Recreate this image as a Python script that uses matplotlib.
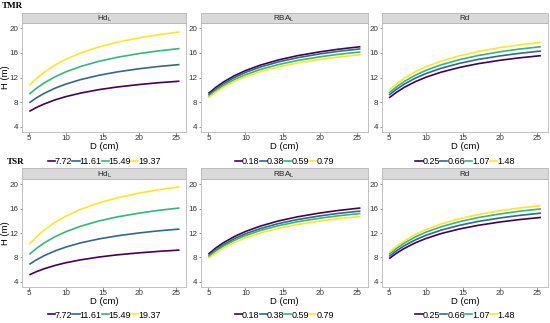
import matplotlib
matplotlib.use("Agg")
import matplotlib.pyplot as plt
from matplotlib.lines import Line2D

plt.rcParams["font.family"] = ["Liberation Sans", "DejaVu Sans"]
plt.rcParams["mathtext.fontset"] = "custom"
plt.rcParams["mathtext.rm"] = "Liberation Sans"

D = [5, 6, 7, 8.5, 10, 12, 14.5, 17, 20, 22.5, 25.5]

# TMR row
tmr_hd = {
    "7.72":  [6.5, 7.15, 7.69, 8.36, 8.90, 9.47, 10.03, 10.46, 10.86, 11.14, 11.4],
    "11.61": [7.9, 8.72, 9.41, 10.26, 10.94, 11.66, 12.36, 12.91, 13.42, 13.77, 14.1],
    "15.49": [9.3, 10.28, 11.10, 12.11, 12.93, 13.79, 14.63, 15.28, 15.89, 16.30, 16.7],
    "19.37": [10.7, 11.85, 12.81, 14.01, 14.96, 15.98, 16.96, 17.73, 18.44, 18.93, 19.4],
}
tmr_rba = {
    "0.18": [9.4, 10.40, 11.25, 12.29, 13.12, 14.01, 14.87, 15.54, 16.16, 16.59, 17.0],
    "0.38": [9.15, 10.14, 10.97, 12.0, 12.83, 13.70, 14.55, 15.21, 15.83, 16.25, 16.65],
    "0.59": [8.9, 9.86, 10.66, 11.66, 12.45, 13.30, 14.12, 14.76, 15.35, 15.76, 16.15],
    "0.79": [8.7, 9.62, 10.40, 11.36, 12.13, 12.95, 13.74, 14.36, 14.93, 15.32, 15.7],
}
tmr_rd = {
    "0.25": [8.7, 9.60, 10.37, 11.30, 12.06, 12.86, 13.63, 14.24, 14.80, 15.18, 15.55],
    "0.66": [9.15, 10.09, 10.89, 11.87, 12.65, 13.49, 14.30, 14.93, 15.51, 15.91, 16.3],
    "1.07": [9.5, 10.49, 11.32, 12.35, 13.18, 14.05, 14.90, 15.56, 16.18, 16.60, 17.0],
    "1.48": [9.95, 10.97, 11.83, 12.90, 13.75, 14.65, 15.53, 16.21, 16.85, 17.28, 17.7],
}
# TSR row
tsr_hd = {
    "7.72":  [5.14, 5.68, 6.13, 6.68, 7.13, 7.60, 8.06, 8.42, 8.75, 8.98, 9.2],
    "11.61": [6.86, 7.62, 8.27, 9.06, 9.70, 10.38, 11.03, 11.54, 12.01, 12.34, 12.65],
    "15.49": [8.5, 9.50, 10.35, 11.39, 12.22, 13.11, 13.97, 14.64, 15.26, 15.69, 16.1],
    "19.37": [10.16, 11.40, 12.45, 13.74, 14.77, 15.87, 16.94, 17.76, 18.54, 19.06, 19.57],
}
tsr_rba = {
    "0.18": [8.55, 9.55, 10.39, 11.42, 12.25, 13.13, 13.99, 14.65, 15.27, 15.69, 16.1],
    "0.38": [8.3, 9.26, 10.07, 11.07, 11.88, 12.73, 13.56, 14.20, 14.80, 15.21, 15.6],
    "0.59": [8.1, 9.04, 9.83, 10.80, 11.58, 12.41, 13.21, 13.84, 14.42, 14.82, 15.2],
    "0.79": [7.85, 8.75, 9.52, 10.45, 11.21, 12.01, 12.78, 13.39, 13.95, 14.33, 14.7],
}
tsr_rd = {
    "0.25": [7.8, 8.69, 9.44, 10.37, 11.11, 11.90, 12.66, 13.25, 13.81, 14.19, 14.55],
    "0.66": [8.15, 9.09, 9.88, 10.85, 11.63, 12.46, 13.26, 13.89, 14.47, 14.87, 15.25],
    "1.07": [8.5, 9.48, 10.31, 11.33, 12.15, 13.02, 13.86, 14.52, 15.13, 15.55, 15.95],
    "1.48": [8.8, 9.82, 10.67, 11.73, 12.57, 13.47, 14.34, 15.02, 15.65, 16.08, 16.5],
}

strip_titles = [r"Hd$_\mathregular{L}$", r"RBA$_\mathregular{L}$", "Rd"]
row_labels = ["TMR", "TSR"]
colors = ["#440154", "#31688E", "#35B779", "#FDE725"]
xticks = [5, 10, 15, 20, 25]
yticks = [4, 8, 12, 16, 20]

W, H = 550, 323
fig = plt.figure(figsize=(5.5, 3.23), dpi=100)
fig.patch.set_facecolor("white")

def fr(x0, y0, x1, y1):
    return [x0 / W, 1 - y1 / H, (x1 - x0) / W, (y1 - y0) / H]

cols_x = [(22, 186.5), (201, 367.5), (381.7, 548)]
rows = [  # strip top, plot top, plot bottom, xlabel y, legend y
    (12.7, 23.3, 131.7, 146.5, 162),
    (168.3, 179.3, 286.7, 301.5, 315),
]
data = [[tmr_hd, tmr_rba, tmr_rd], [tsr_hd, tsr_rba, tsr_rd]]

for r, (st, pt, pb, xly, lgy) in enumerate(rows):
    for c, (x0, x1) in enumerate(cols_x):
        ax = fig.add_axes(fr(x0, pt, x1, pb))
        series = data[r][c]
        handles = []
        for (lab, vals), col in zip(series.items(), colors):
            ax.plot(D, vals, color=col, lw=1.2, solid_capstyle="butt")
            handles.append(Line2D([], [], color=col, lw=1.2))
        ax.set_xlim(4.0, 26.45)
        ax.set_ylim(3.2, 20.8)
        ax.set_xticks(xticks)
        ax.set_yticks(yticks)
        ax.tick_params(labelsize=5.8, length=1.8, width=0.5, color="#666666",
                       labelcolor="#333333", pad=0.8)
        for s in ax.spines.values():
            s.set_color("#b8b8b8")
            s.set_linewidth(0.6)
        if c == 0:
            fig.text(5.5 / W, 1 - (pt + pb) / 2 / H, "H (m)", rotation=90,
                     ha="center", va="center", fontsize=6.8)
        # strip
        sax = fig.add_axes(fr(x0, st, x1, pt))
        sax.set_facecolor("#d9d9d9")
        sax.set_xticks([]); sax.set_yticks([])
        for s in sax.spines.values():
            s.set_color("#b8b8b8")
            s.set_linewidth(0.6)
        sax.text(0.5, 0.45, strip_titles[c], ha="center", va="center",
                 fontsize=5.8, color="#222222", transform=sax.transAxes)
        # x label
        fig.text((x0 + x1) / 2 / W, 1 - xly / H, "D (cm)", ha="center",
                 va="center", fontsize=6.8)
        # legend
        fig.legend(handles, list(series.keys()), loc="center",
                   bbox_to_anchor=((x0 + x1) / 2 / W, 1 - lgy / H),
                   ncol=4, frameon=False, fontsize=6.5, handlelength=0.8,
                   handletextpad=0.0, columnspacing=0.0, borderpad=0,
                   borderaxespad=0)

fig.text(2 / W, 1 - 6 / H, "TMR", ha="left", va="center", fontsize=6.5,
         fontweight="bold", family="Liberation Serif")
fig.text(7 / W, 1 - 162 / H, "TSR", ha="left", va="center", fontsize=6.5,
         fontweight="bold", family="Liberation Serif")

fig.savefig("out.png", dpi=100, facecolor="white")
